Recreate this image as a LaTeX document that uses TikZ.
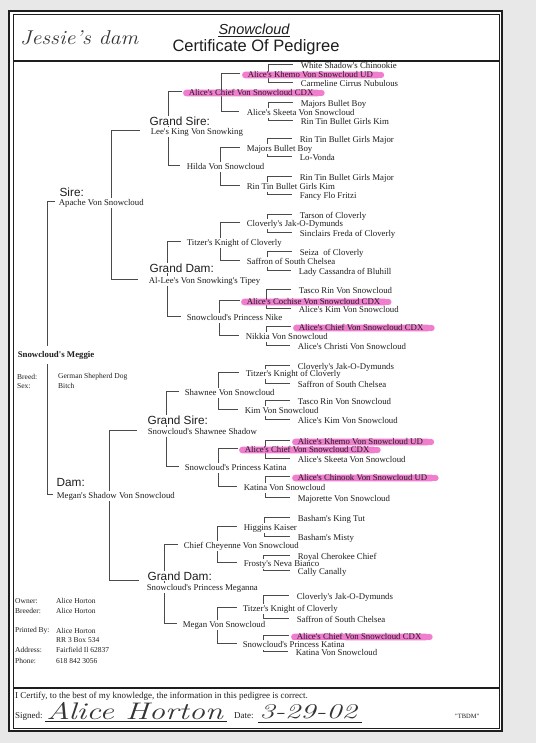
\documentclass[tikz,border=0pt]{standalone}
\usepackage{fontspec}
\newfontfamily\tnr{Liberation Serif}
\newfontfamily\ars{Liberation Sans}
\usetikzlibrary{calc}
\pgfdeclarelayer{paperl}
\pgfdeclarelayer{bg}
\pgfdeclarelayer{hlayer}
\pgfsetlayers{paperl,bg,hlayer,main}
\definecolor{hl}{RGB}{240,125,205}
\definecolor{ink}{RGB}{30,30,30}
\definecolor{paper}{RGB}{232,232,232}
\tikzset{
  nm/.style={anchor=west, inner xsep=0.6pt, inner ysep=1pt, fill=white, font=\tnr\fontsize{8.8}{10}\selectfont, text height=6pt, text depth=1.8pt, text=ink},
  hn/.style={nm, fill=none},
  leaf/.style={nm, fill=none},
  lb/.style={anchor=west, inner sep=0.4pt, fill=white, font=\ars\fontsize{11.8}{13}\selectfont, text=ink},
  sm/.style={anchor=west, inner sep=0pt, font=\tnr\fontsize{7.5}{9}\selectfont, text=ink},
  ft/.style={anchor=west, inner sep=0pt, font=\tnr\fontsize{9}{10}\selectfont, text=ink},
  hand/.style={inner sep=0pt, text=ink!90},
  con/.style={draw=ink!80, line width=0.65pt},
}
\newcommand\brk[4]{\draw[con] ([xshift=-#4, yshift=2]#1.west) -- ([xshift=-#3, yshift=2]#1.west) |- ([xshift=-#4, yshift=2]#2.west);}
\newcommand\hmark[1]{\fill[hl, rounded corners=3.5pt] ([xshift=-5, yshift=-3.4]#1.west) rectangle ([xshift=7, yshift=3.4]#1.east);
  \fill[hl] ([xshift=7]#1.east) ellipse (3.5 and 3.2);}
\begin{document}
\begin{tikzpicture}[x=1pt, y=-1pt]
\useasboundingbox (0,0) rectangle (536,743);
\begin{pgfonlayer}{paperl}
\fill[paper] (0,0) rectangle (536,743);
\fill[white] (9,11) rectangle (502,731);
\end{pgfonlayer}
% frame
\draw[ink, line width=1.8pt] (9,11) rectangle (502,731);
\draw[ink, line width=0.5pt] (13,14) rectangle (499,728);
\draw[ink, line width=2pt] (13,61) -- (499,61);
\draw[ink, line width=1.6pt] (13,688) -- (499,688);

% header
\node[hand, anchor=west, font=\itshape\fontsize{20}{22}\selectfont, xscale=1.1] (jd) at (20,38) {Jessie's dam};
\node[inner sep=0pt, font=\ars\itshape\fontsize{14.5}{16}\selectfont, text=ink] (snow) at (254,29) {Snowcloud};
\draw[ink, line width=0.9pt] ([yshift=-1.5]snow.south west) -- ([yshift=-1.5]snow.south east);
\node[inner sep=0pt, font=\ars\fontsize{16.5}{18}\selectfont, text=ink] (cop) at (256,47) {Certificate Of Pedigree};

% subject
\node[nm, font=\tnr\bfseries\fontsize{8.8}{10}\selectfont, inner ysep=5pt] (m) at (17,355) {Snowcloud's Meggie};
\node[sm] (breedL) at (17,377) {Breed:};
\node[sm] (breed) at (58,377) {German Shepherd Dog};
\node[sm] (sexL) at (17,386) {Sex:};
\node[sm] (sex) at (58,386) {Bitch};

% gen 1
\node[lb] (sL) at (59,192) {Sire:};
\node[nm] (s) at (58,203) {Apache Von Snowcloud};
\node[lb] (dL) at (56,482) {Dam:};
\node[nm] (d) at (56,496) {Megan's Shadow Von Snowcloud};

% gen 2
\node[nm] (ss) at (150,132) {Lee's King Von Snowking};
\node[lb] (ssL) at (149,121) {Grand Sire:};
\node[nm] (sd) at (148,281) {Al-Lee's Von Snowking's Tipey};
\node[lb] (sdL) at (149,268) {Grand Dam:};
\node[nm] (ds) at (147,432) {Snowcloud's Shawnee Shadow};
\node[lb] (dsL) at (147,420) {Grand Sire:};
\node[nm] (dd) at (146,588) {Snowcloud's Princess Meganna};
\node[lb] (ddL) at (147,576) {Grand Dam:};

% gen 3
\node[hn] (sss) at (188,93) {Alice's Chief Von Snowcloud CDX};
\node[nm] (ssd) at (186,167) {Hilda Von Snowcloud};
\node[nm] (sds) at (186,243) {Titzer's Knight of Cloverly};
\node[nm] (sdd) at (186,318) {Snowcloud's Princess Nike};
\node[nm] (dss) at (184,393) {Shawnee Von Snowcloud};
\node[nm] (dsd) at (184,468) {Snowcloud's Princess Katina};
\node[nm] (dds) at (183,546) {Chief Cheyenne Von Snowcloud};
\node[nm] (ddd) at (182,625) {Megan Von Snowcloud};

% gen 4
\node[hn] (ssss) at (247,75) {Alice's Khemo Von Snowcloud UD};
\node[nm] (sssd) at (246,113) {Alice's Skeeta Von Snowcloud};
\node[nm] (ssds) at (246,149) {Majors Bullet Boy};
\node[nm] (ssdd) at (246,187) {Rin Tin Bullet Girls Kim};
\node[nm] (sdss) at (246,224) {Cloverly's Jak-O-Dymunds};
\node[nm] (sdsd) at (246,262) {Saffron of South Chelsea};
\node[hn] (sdds) at (246,302) {Alice's Cochise Von Snowcloud CDX};
\node[nm] (sddd) at (245,337) {Nikkia Von Snowcloud};
\node[nm] (dsss) at (245,374) {Titzer's Knight of Cloverly};
\node[nm] (dssd) at (244,411) {Kim Von Snowcloud};
\node[hn] (dsds) at (244,450) {Alice's Chief Von Snowcloud CDX};
\node[nm] (dsdd) at (243,488) {Katina Von Snowcloud};
\node[nm] (ddss) at (243,528) {Higgins Kaiser};
\node[nm] (ddsd) at (243,564) {Frosty's Neva Bianco};
\node[nm] (ddds) at (242,609) {Titzer's Knight of Cloverly};
\node[nm] (dddd) at (242,645) {Snowcloud's Princess Katina};

% gen 5
\node[leaf] (sssss) at (300,66) {White Shadow's Chinookie};
\node[leaf] (ssssd) at (300,84) {Carmeline Cirrus Nubulous};
\node[leaf] (sssds) at (300,104) {Majors Bullet Boy};
\node[leaf] (sssdd) at (300,122) {Rin Tin Bullet Girls Kim};
\node[leaf] (ssdss) at (299,140) {Rin Tin Bullet Girls Major};
\node[leaf] (ssdsd) at (299,158) {Lo-Vonda};
\node[leaf] (ssdds) at (299,178) {Rin Tin Bullet Girls Major};
\node[leaf] (ssddd) at (299,196) {Fancy Flo Fritzi};
\node[leaf] (sdsss) at (299,216) {Tarson of Cloverly};
\node[leaf] (sdssd) at (299,234) {Sinclairs Freda of Cloverly};
\node[leaf] (sdsds) at (299,253) {Seiza~ of Cloverly};
\node[leaf] (sdsdd) at (298,272) {Lady Cassandra of Bluhill};
\node[leaf] (sddss) at (298,291) {Tasco Rin Von Snowcloud};
\node[leaf] (sddsd) at (298,310) {Alice's Kim Von Snowcloud};
\node[hn] (sddds) at (298,328) {Alice's Chief Von Snowcloud CDX};
\node[leaf] (sdddd) at (297,347) {Alice's Christi Von Snowcloud};
\node[leaf] (dssss) at (297,367) {Cloverly's Jak-O-Dymunds};
\node[leaf] (dsssd) at (297,385) {Saffron of South Chelsea};
\node[leaf] (dssds) at (297,402) {Tasco Rin Von Snowcloud};
\node[leaf] (dssdd) at (297,421) {Alice's Kim Von Snowcloud};
\node[hn] (dsdss) at (297,442) {Alice's Khemo Von Snowcloud UD};
\node[leaf] (dsdsd) at (297,460) {Alice's Skeeta Von Snowcloud};
\node[hn] (dsdds) at (297,478) {Alice's Chinook Von Snowcloud UD};
\node[leaf] (dsddd) at (297,499) {Majorette Von Snowcloud};
\node[leaf] (ddsss) at (297,519) {Basham's King Tut};
\node[leaf] (ddssd) at (297,538) {Basham's Misty};
\node[leaf] (ddsds) at (297,557) {Royal Cherokee Chief};
\node[leaf] (ddsdd) at (297,572) {Cally Canally};
\node[leaf] (dddss) at (296,597) {Cloverly's Jak-O-Dymunds};
\node[leaf] (dddsd) at (296,620) {Saffron of South Chelsea};
\node[hn] (dddds) at (296,637) {Alice's Chief Von Snowcloud CDX};
\node[leaf] (ddddd) at (295,653) {Katina Von Snowcloud};

% owner block
\node[sm] (ownL) at (15,601) {Owner:};
\node[sm] (own) at (56,601) {Alice Horton};
\node[sm] (brdL) at (15,611) {Breeder:};
\node[sm] (brd) at (56,611) {Alice Horton};
\node[sm] (prL) at (15,631) {Printed By:};
\node[sm] (pr) at (56,631) {Alice Horton};
\node[sm] (pr2) at (56,640) {RR 3 Box 534};
\node[sm] (adL) at (15,650) {Address:};
\node[sm] (ad) at (56,650) {Fairfield Il 62837};
\node[sm] (phL) at (15,661) {Phone:};
\node[sm] (ph) at (56,661) {618 842 3056};

% footer
\node[ft] (cert) at (15,696) {I Certify, to the best of my knowledge, the information in this pedigree is correct.};
\node[ft] (sign) at (15,716) {Signed:};
\node[hand, anchor=west, font=\itshape\fontsize{24}{26}\selectfont, xscale=1.35] (sig) at (46,711) {Alice Horton};
\draw[ink, line width=0.5pt] (45,721) -- (227,721);
\node[ft] (date) at (234,716) {Date:};
\node[hand, anchor=west, font=\itshape\fontsize{21}{23}\selectfont, xscale=1.45] (dt) at (259,712) {3-29-02};
\draw[ink, line width=0.5pt] (258,722) -- (362,722);
\node[anchor=west, inner sep=0pt, font=\tnr\fontsize{6.5}{8}\selectfont, text=ink] (tbdm) at (455,716) {"TBDM"};

% highlights
\begin{pgfonlayer}{hlayer}
\hmark{sss}\hmark{ssss}\hmark{sdds}\hmark{sddds}\hmark{dsds}\hmark{dsdss}\hmark{dsdds}\hmark{dddds}
\end{pgfonlayer}

% connectors
\begin{pgfonlayer}{bg}
% gen1
\brk{s}{d}{11}{3}
% gen2
\brk{ss}{sd}{39}{10}
\draw[con] ([xshift=-10, yshift=2]ds.west) -- ([xshift=-38, yshift=2]ds.west) |- ([xshift=-7, yshift=8]dd.west);
% gen3
\brk{sss}{ssd}{20}{6}
\brk{sds}{sdd}{19}{5}
\brk{dss}{dsd}{18}{5}
\brk{dds}{ddd}{19}{5}
% gen4
\brk{ssss}{sssd}{26}{7}
\brk{ssds}{ssdd}{26}{6}
\brk{sdss}{sdsd}{26}{6}
\brk{sdds}{sddd}{27}{6}
\brk{dsss}{dssd}{27}{6}
\brk{dsds}{dsdd}{26}{6}
\brk{ddss}{ddsd}{26}{6}
\brk{ddds}{dddd}{25}{5}
% gen5
\brk{sssss}{ssssd}{32}{7}
\brk{sssds}{sssdd}{32}{7}
\brk{ssdss}{ssdsd}{32}{7}
\brk{ssdds}{ssddd}{32}{7}
\brk{sdsss}{sdssd}{32}{7}
\brk{sdsds}{sdsdd}{32}{7}
\brk{sddss}{sddsd}{32}{7}
\brk{sddds}{sdddd}{32}{7}
\brk{dssss}{dsssd}{32}{7}
\brk{dssds}{dssdd}{32}{7}
\brk{dsdss}{dsdsd}{32}{7}
\brk{dsdds}{dsddd}{32}{7}
\brk{ddsss}{ddssd}{33}{7}
\brk{ddsds}{ddsdd}{34}{7}
\brk{dddss}{dddsd}{33}{7}
\brk{dddds}{ddddd}{33}{7}
\end{pgfonlayer}
\end{tikzpicture}
\end{document}
